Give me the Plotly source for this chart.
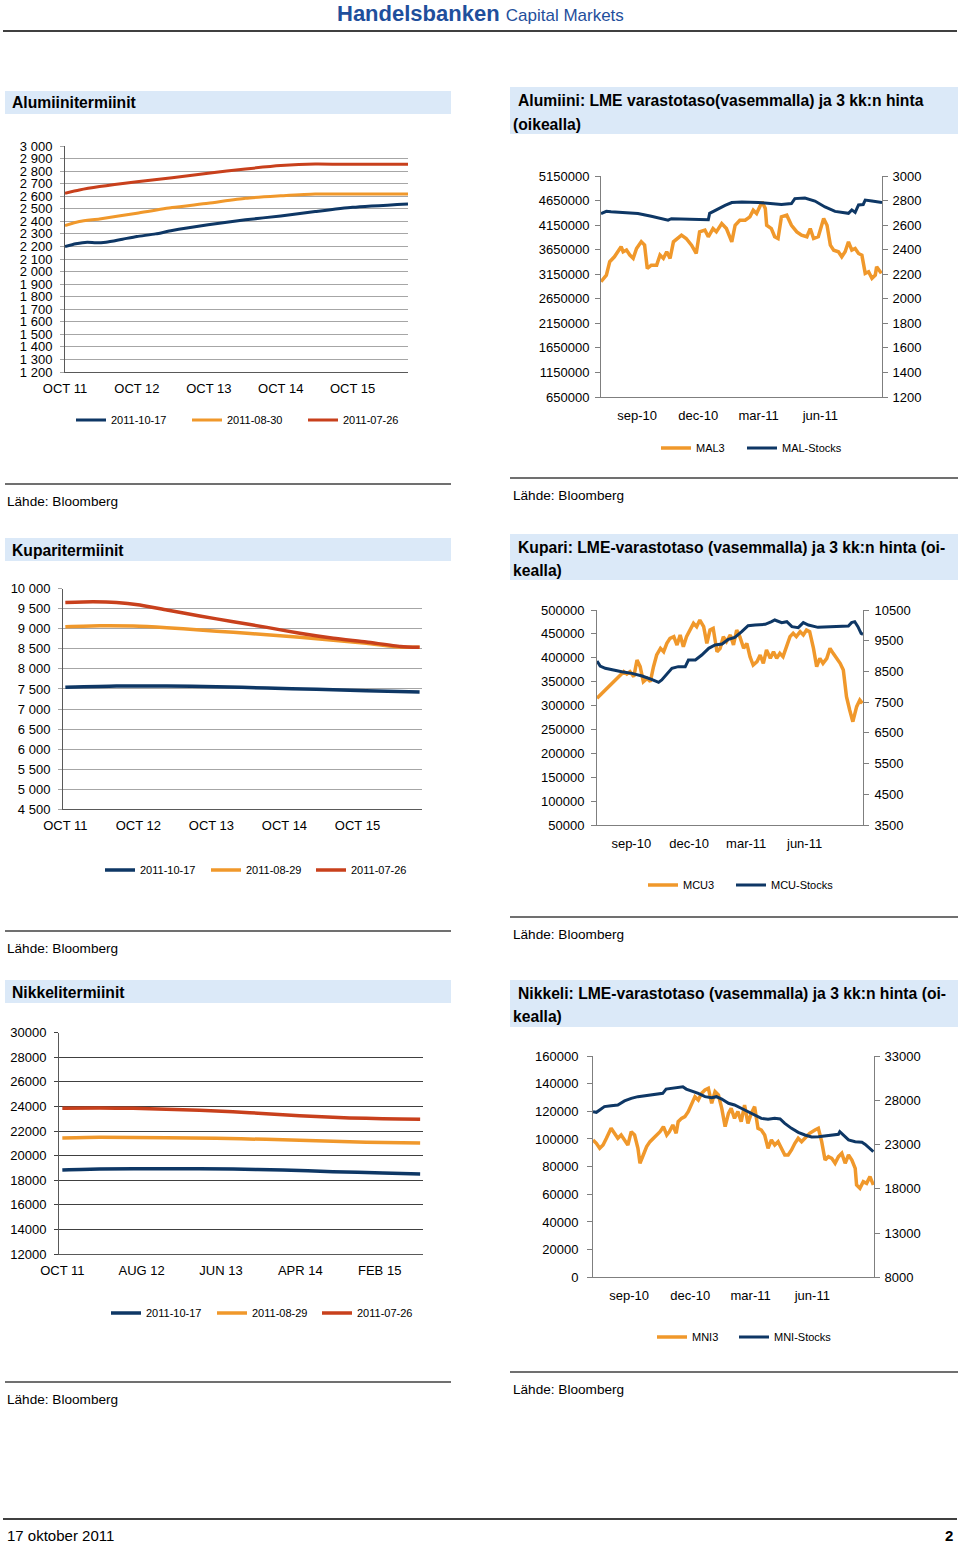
import plotly.graph_objects as go
import pandas as pd

W, H = 960, 1545
NAVY = '#0e3765'
ORANGE = '#f0982b'
RED = '#c8401c'
BAR = '#dbe9f8'
FONT = 'Liberation Sans, Arial, sans-serif'

# ---------------- Data ----------------
# Aluminium forward curves (x = years after OCT 11)
al_fwd_ticks = ['OCT 11', 'OCT 12', 'OCT 13', 'OCT 14', 'OCT 15']
al_1017_x = [0, 0.15, 0.31, 0.43, 0.57, 0.8, 1.0, 1.26, 1.49, 1.99, 2.51, 3.0, 3.48, 4.0, 4.77]
al_1017_y = [2199, 2221, 2234, 2229, 2234, 2258, 2279, 2300, 2327, 2372, 2412, 2443, 2478, 2512, 2539]
al_0830_x = [0, 0.2, 0.48, 1.0, 1.49, 1.99, 2.51, 3.0, 3.48, 4.0, 4.77]
al_0830_y = [2366, 2398, 2419, 2465, 2510, 2544, 2584, 2603, 2618, 2618, 2618]
al_0726_x = [0, 0.2, 0.48, 1.0, 1.49, 1.99, 2.51, 3.0, 3.48, 4.0, 4.77]
al_0726_y = [2624, 2650, 2677, 2716, 2748, 2783, 2817, 2844, 2857, 2854, 2854]

# Copper forward curves (x = years after OCT 11)
cu_fwd_ticks = ['OCT 11', 'OCT 12', 'OCT 13', 'OCT 14', 'OCT 15']
cu_1017_x = [0, 0.70, 1.39, 2.07, 2.76, 3.44, 4.12, 4.85]
cu_1017_y = [7541, 7574, 7574, 7557, 7524, 7491, 7458, 7424]
cu_0829_x = [0, 0.47, 0.93, 1.39, 1.84, 2.30, 2.76, 3.21, 3.67, 4.12, 4.59, 4.85]
cu_0829_y = [9053, 9078, 9070, 9028, 8970, 8912, 8854, 8787, 8712, 8640, 8545, 8538]
cu_0726_x = [0, 0.38, 0.70, 1.02, 1.39, 1.84, 2.30, 2.76, 3.21, 3.67, 4.12, 4.59, 4.85]
cu_0726_y = [9659, 9676, 9659, 9593, 9468, 9319, 9177, 9036, 8887, 8762, 8670, 8560, 8538]

# Nickel forward curves (x = months after OCT 11)
ni_fwd_ticks = ['OCT 11', 'AUG 12', 'JUN 13', 'APR 14', 'FEB 15']
ni_fwd_tickvals = [0, 10, 20, 30, 40]
ni_1017_x = [0, 4.7, 13.1, 21.5, 27.8, 34.1, 40.4, 45.1]
ni_1017_y = [18831, 18913, 18940, 18913, 18831, 18696, 18587, 18506]
ni_0829_x = [0, 4.7, 13.1, 19.4, 25.7, 32.0, 38.3, 45.1]
ni_0829_y = [21434, 21488, 21461, 21407, 21325, 21217, 21081, 21027]
ni_0726_x = [0, 4.7, 8.9, 13.1, 17.3, 21.5, 25.7, 29.9, 34.1, 38.3, 42.5, 45.1]
ni_0726_y = [23846, 23873, 23846, 23765, 23684, 23575, 23413, 23250, 23114, 23033, 22979, 22952]

# LME series (days after 2010-07-09)
lme_start = '2010-07-09'
lme_end = '2011-09-01'
lme_tickdates = ['2010-09-01', '2010-12-01', '2011-03-01', '2011-06-01']
lme_ticktext = ['sep-10', 'dec-10', 'mar-11', 'jun-11']

mal_stocks_days = [0, 8, 15, 55, 75, 90, 100, 105, 130, 160, 162, 175, 185, 195, 210, 235, 254, 269, 284, 289,
                   304, 319, 334, 349, 369, 374, 379, 384, 391, 394, 404, 419]
mal_stocks = [4385000, 4430000, 4420000, 4385000, 4330000, 4290000, 4250000, 4280000, 4270000, 4260000,
              4390000, 4490000, 4550000, 4610000, 4620000, 4610000, 4590000, 4570000, 4590000, 4690000,
              4700000, 4640000, 4520000, 4430000, 4390000, 4460000, 4410000, 4560000, 4570000, 4660000,
              4640000, 4610000]
mal3_days = [0, 8, 13, 20, 25, 30, 33, 38, 43, 48, 53, 60, 65, 69, 75, 83, 88, 93, 98, 103,
             108, 115, 120, 127, 135, 142, 147, 155, 160, 167, 172, 180, 187, 195, 200, 207, 215, 222, 227, 232,
             240, 245, 247, 254, 259, 264, 269, 277, 284, 292, 299, 307, 312, 317, 324, 332, 337, 342, 347, 354,
             359, 364, 369, 374, 379, 384, 389, 394, 399, 404, 409, 411, 416, 418]
mal3 = [2139, 2193, 2302, 2342, 2383, 2424, 2383, 2397, 2356, 2329, 2410, 2464, 2437, 2247, 2274, 2274, 2356, 2329, 2383, 2329,
        2464, 2491, 2518, 2491, 2437, 2369, 2545, 2559, 2505, 2572, 2545, 2613, 2572, 2464, 2599, 2640, 2640, 2667, 2721, 2694,
        2789, 2735, 2599, 2572, 2505, 2491, 2667, 2681, 2599, 2545, 2518, 2505, 2572, 2491, 2505, 2653, 2599, 2437, 2396, 2383,
        2342, 2383, 2464, 2396, 2410, 2369, 2356, 2207, 2220, 2166, 2193, 2261, 2220, 2207]

mcu_stocks_days = [0, 5, 13, 24, 39, 55, 71, 86, 97, 102, 110, 118, 128, 139, 144, 155, 165, 176, 186, 197,
                   207, 217, 228, 238, 249, 265, 275, 280, 291, 299, 307, 317, 325, 333, 348, 364, 380, 396, 401, 406,
                   411, 416, 419]
mcu_stocks = [393300, 382800, 377900, 374400, 370900, 367400, 361900, 354900, 348600, 353500,
              366000, 377900, 381400, 381400, 395300, 395300, 405800, 419800, 426700, 428800,
              438600, 442800, 454700, 467200, 468600, 470000, 475600, 479100, 473500, 475600,
              465100, 463000, 473500, 468600, 463700, 465100, 465100, 466500, 473500, 475600,
              465100, 451200, 449100]
mcu3_days = [0, 5, 13, 21, 29, 37, 42, 47, 52, 58, 63, 68, 73, 79, 84, 89, 94, 100, 105, 110,
             115, 121, 126, 131, 136, 141, 147, 152, 157, 162, 168, 173, 178, 183, 189, 194, 199, 204, 210, 215,
             220, 225, 231, 236, 241, 246, 252, 257, 262, 267, 273, 278, 283, 288, 293, 299, 304, 309, 314, 320,
             325, 330, 335, 341, 346, 351, 356, 362, 367, 372, 377, 383, 388, 393, 398, 403, 409, 414, 418]
mcu3 = [7624, 7733, 7895, 8058, 8221, 8384, 8492, 8416, 8492, 8329, 8872, 8655, 8167, 8275, 8167, 8655, 9035, 9252, 9143, 9415,
        9578, 9632, 9360, 9687, 9306, 9632, 9903, 10066, 9957, 10174, 9957, 9415, 9849, 9903, 9143, 9252, 9632, 9469, 9687, 9360,
        9849, 9632, 9252, 9415, 8981, 8709, 8818, 9035, 8763, 9198, 8926, 9143, 8926, 9089, 8981, 9360, 9632, 9740, 9632, 9795,
        9687, 9849, 9795, 9252, 8655, 8926, 8763, 8926, 9252, 9089, 8926, 8763, 8547, 7678, 7244, 6864, 7353, 7570, 7461]

mni_stocks_days = [0, 5, 10, 17, 27, 37, 47, 57, 67, 77, 87, 97, 104, 109, 117, 127, 134, 139, 147, 157,
                   167, 177, 184, 192, 202, 211, 221, 231, 241, 251, 261, 271, 279, 286, 296, 306, 316, 326, 336, 346,
                   356, 366, 368, 373, 381, 391, 401, 406, 413, 418]
mni_stocks = [119760, 119280, 121000, 123400, 124100, 124600, 127500, 129400, 130600, 131300,
              131800, 132300, 133000, 136100, 136600, 137100, 137800, 136100, 134700, 133000,
              130600, 129900, 130600, 128900, 125800, 124600, 122200, 119800, 116900, 114900,
              114200, 114900, 114500, 111300, 107700, 104800, 102900, 101400, 101700, 102400,
              102900, 103400, 105300, 102900, 99300, 98070, 97600, 96100, 92770, 90840]
mni3_days = [0, 5, 10, 15, 20, 25, 27, 32, 37, 42, 47, 52, 57, 62, 67, 70, 75, 80, 85, 90,
             95, 100, 105, 110, 114, 119, 124, 127, 132, 137, 142, 147, 152, 157, 162, 167, 172, 177, 182, 187,
             192, 197, 202, 206, 211, 216, 221, 226, 231, 236, 241, 246, 251, 256, 261, 266, 271, 276, 281, 286,
             291, 296, 301, 306, 311, 316, 323, 331, 336, 341, 346, 351, 356, 361, 366, 371, 376, 381, 386, 391,
             393, 398, 403, 408, 413, 418]
mni3 = [23512, 23136, 22571, 22947, 23700, 24453, 24830, 24265, 23700, 24077, 23512, 22947, 24453, 24077, 22571, 20877, 21818, 22759, 23324, 23700,
        24077, 24453, 25018, 24077, 24453, 25206, 24265, 25583, 25960, 26148, 26712, 27654, 28407, 28030, 28783, 29160, 29348, 27654, 28971, 28595,
        27089, 25018, 26524, 27089, 25960, 26712, 25583, 27465, 25395, 26524, 27277, 24830, 24642, 24077, 22571, 23512, 22947, 23324, 22571, 21818,
        21818, 22383, 23136, 23700, 23324, 23700, 24265, 24642, 24830, 23324, 21253, 21629, 21441, 20877, 21629, 22006, 20877, 21818, 21253, 20312,
        18430, 18053, 18806, 18618, 19371, 18430]


def to_dates(days):
    return pd.Timestamp(lme_start) + pd.to_timedelta(days, unit='D')


def px(x):
    return x / W


def py(y):
    return 1 - y / H


fig = go.Figure()
legends = {}
_leg_count = [0]


def new_legend(text_x, text_y):
    """One legend per entry so each entry sits where the reference shows it."""
    _leg_count[0] += 1
    name = 'legend' if _leg_count[0] == 1 else 'legend%d' % _leg_count[0]
    legends[name] = dict(orientation='h', x=px(text_x - 40), y=py(text_y), xanchor='left', yanchor='middle',
                         font=dict(family=FONT, size=11, color='black'), bgcolor='rgba(0,0,0,0)',
                         itemclick=False, itemdoubleclick=False, borderwidth=0)
    return name


def fwd(x, y, name, color, xa, ya, lx, ly, width):
    fig.add_trace(go.Scatter(x=x, y=y, name=name, mode='lines',
                             line=dict(color=color, width=width, shape='spline', smoothing=0.6),
                             xaxis=xa, yaxis=ya, legend=new_legend(lx, ly), hoverinfo='skip'))

fwd(al_1017_x, al_1017_y, '2011-10-17', NAVY, 'x', 'y', 111, 420, 3)
fwd(al_0830_x, al_0830_y, '2011-08-30', ORANGE, 'x', 'y', 227, 420, 3)
fwd(al_0726_x, al_0726_y, '2011-07-26', RED, 'x', 'y', 343, 420, 3)

fwd(cu_1017_x, cu_1017_y, '2011-10-17', NAVY, 'x3', 'y4', 140, 870, 3.5)
fwd(cu_0829_x, cu_0829_y, '2011-08-29', ORANGE, 'x3', 'y4', 246, 870, 3.5)
fwd(cu_0726_x, cu_0726_y, '2011-07-26', RED, 'x3', 'y4', 351, 870, 3.5)

fwd(ni_1017_x, ni_1017_y, '2011-10-17', NAVY, 'x5', 'y7', 146, 1313, 3.5)
fwd(ni_0829_x, ni_0829_y, '2011-08-29', ORANGE, 'x5', 'y7', 252, 1313, 3.5)
fwd(ni_0726_x, ni_0726_y, '2011-07-26', RED, 'x5', 'y7', 357, 1313, 3.5)


def lme(days, vals, name, color, xa, ya, lx, ly, width):
    fig.add_trace(go.Scatter(x=to_dates(days), y=vals, name=name, mode='lines',
                             line=dict(color=color, width=width),
                             xaxis=xa, yaxis=ya, legend=new_legend(lx, ly), hoverinfo='skip'))

lme(mal3_days, mal3, 'MAL3', ORANGE, 'x2', 'y2', 696, 448, 3.5)
lme(mal_stocks_days, mal_stocks, 'MAL-Stocks', NAVY, 'x2', 'y3', 782, 448, 3)
lme(mcu3_days, mcu3, 'MCU3', ORANGE, 'x4', 'y5', 683, 885, 3.5)
lme(mcu_stocks_days, mcu_stocks, 'MCU-Stocks', NAVY, 'x4', 'y6', 771, 885, 3)
lme(mni3_days, mni3, 'MNI3', ORANGE, 'x6', 'y8', 692, 1337, 3.5)
lme(mni_stocks_days, mni_stocks, 'MNI-Stocks', NAVY, 'x6', 'y9', 774, 1337, 3)

tickfont = dict(family=FONT, size=13, color='black')


def fwd_x(dom, rng, tickvals, ticks, anchor):
    return dict(domain=[px(dom[0]), px(dom[1])], anchor=anchor, range=rng,
                tickmode='array', tickvals=tickvals, ticktext=ticks, showgrid=False, zeroline=False,
                showline=True, linecolor='#595959', linewidth=1, ticks='', tickfont=tickfont,
                ticklabelstandoff=4, fixedrange=True, automargin=False)


def fwd_y(dom, rng, dtick, anchor, fmt, grid, standoff=5):
    return dict(domain=[py(dom[1]), py(dom[0])], anchor=anchor, range=rng, tick0=rng[0], dtick=dtick,
                tickformat=fmt, showgrid=True, gridcolor=grid, gridwidth=1, zeroline=False,
                showline=True, linecolor='#595959', linewidth=1, ticks='outside', ticklen=4,
                tickcolor=grid, tickfont=tickfont, ticklabelstandoff=standoff, fixedrange=True,
                automargin=False)


def lme_x(dom, anchor):
    return dict(domain=[px(dom[0]), px(dom[1])], anchor=anchor, type='date', range=[lme_start, lme_end],
                tickmode='array', tickvals=lme_tickdates, ticktext=lme_ticktext, showgrid=False,
                zeroline=False, showline=True, linecolor='#7f7f7f', linewidth=1, ticks='',
                tickfont=tickfont, ticklabelstandoff=6, fixedrange=True, automargin=False)


def lme_y(dom, rng, dtick, anchor, side, overlay=None, standoff=3):
    d = dict(range=rng, tick0=rng[0], dtick=dtick, tickformat='d', showgrid=False, zeroline=False,
             showline=True, linecolor='#7f7f7f', linewidth=1, ticks='outside', ticklen=5,
             tickcolor='#7f7f7f', tickfont=tickfont, ticklabelstandoff=standoff, side=side, anchor=anchor,
             fixedrange=True, automargin=False)
    if overlay:
        d['overlaying'] = overlay
    else:
        d['domain'] = [py(dom[1]), py(dom[0])]
    return d


layout = dict(
    width=W, height=H, margin=dict(l=0, r=0, t=0, b=0, pad=0, autoexpand=False),
    paper_bgcolor='white', plot_bgcolor='white', separators='. ',
    font=dict(family=FONT, size=13, color='black'),
    xaxis=fwd_x((65, 408), [0, 4.77], [0, 1, 2, 3, 4], al_fwd_ticks, 'y'),
    yaxis=fwd_y((146, 372), [1200, 3000], 100, 'x', ',d', '#a6a6a6'),
    xaxis2=lme_x((601, 882), 'y2'),
    yaxis2=lme_y((176, 397), [1200, 3000], 200, 'x2', 'right', standoff=2),
    yaxis3=lme_y(None, [650000, 5150000], 500000, 'x2', 'left', 'y2', standoff=3),
    xaxis3=fwd_x((63, 422), [-0.032, 4.883], [0, 1, 2, 3, 4], cu_fwd_ticks, 'y4'),
    yaxis4=fwd_y((588.7, 809.3), [4500, 10000], 500, 'x3', ',d', '#a6a6a6'),
    xaxis4=lme_x((597, 863), 'y5'),
    yaxis5=lme_y((610, 825), [3500, 10500], 1000, 'x4', 'right', standoff=3),
    yaxis6=lme_y(None, [50000, 500000], 50000, 'x4', 'left', 'y5', standoff=4),
    xaxis5=fwd_x((59, 423), [-0.42, 45.46], ni_fwd_tickvals, ni_fwd_ticks, 'y7'),
    yaxis7=fwd_y((1032.7, 1254), [12000, 30000], 2000, 'x5', 'd', '#404040'),
    xaxis6=lme_x((593, 874), 'y8'),
    yaxis8=lme_y((1056, 1277.3), [8000, 33000], 5000, 'x6', 'right', standoff=2),
    yaxis9=lme_y(None, [0, 160000], 20000, 'x6', 'left', 'y8', standoff=6),
    showlegend=True,
)
layout.update(legends)
fig.update_layout(**layout)

shapes = []
for (x0, y0, x1, y1) in [(5, 91, 451, 114), (510, 87, 958, 134), (5, 538, 451, 561),
                         (510, 534, 958, 580), (5, 980, 451, 1003), (510, 980, 958, 1027)]:
    shapes.append(dict(type='rect', xref='paper', yref='paper', x0=px(x0), x1=px(x1), y0=py(y1), y1=py(y0),
                       fillcolor=BAR, line=dict(width=0), layer='below'))
for (x0, x1, y, w) in [(3, 957, 31, 2), (3, 957, 1519, 2),
                       (5, 451, 484, 1.5), (510, 958, 478, 1.5),
                       (5, 451, 931, 1.5), (510, 958, 917, 1.5),
                       (5, 451, 1382, 1.5), (510, 958, 1372, 1.5)]:
    shapes.append(dict(type='line', xref='paper', yref='paper', x0=px(x0), x1=px(x1), y0=py(y), y1=py(y),
                       line=dict(color='#404040', width=w)))
fig.update_layout(shapes=shapes)


def text(x, y, s, size=14, bold=False, anchor='left', color='black'):
    fig.add_annotation(x=px(x), y=py(y), xref='paper', yref='paper', text=('<b>%s</b>' % s) if bold else s,
                       showarrow=False, xanchor=anchor, yanchor='middle',
                       font=dict(family=FONT, size=size, color=color))

# header
text(480, 13, "<b>Handelsbanken</b> <span style='font-size:17px'>Capital Markets</span>", size=22,
     anchor='center', color='#1f4f9c')

# panel titles
TS = 15.7
text(10, 103, 'Alumiinitermiinit', TS, True)
text(516, 100, 'Alumiini: LME varastotaso(vasemmalla) ja 3 kk:n hinta', TS, True)
text(511, 124, '(oikealla)', TS, True)
text(10, 550, 'Kuparitermiinit', TS, True)
text(516, 547, 'Kupari: LME-varastotaso (vasemmalla) ja 3 kk:n hinta (oi-', TS, True)
text(511, 571, 'kealla)', TS, True)
text(10, 992, 'Nikkelitermiinit', TS, True)
text(516, 993, 'Nikkeli: LME-varastotaso (vasemmalla) ja 3 kk:n hinta (oi-', TS, True)
text(511, 1017, 'kealla)', TS, True)

# sources
for (x, y) in [(5, 501), (511, 496), (5, 948), (511, 934), (5, 1399), (511, 1389)]:
    text(x, y, 'Lähde: Bloomberg', 13.6)

# footer
text(5, 1535, '17 oktober 2011', 15)
text(955, 1535, '2', 15, True, anchor='right')

fig.write_html('out.html', config={'displayModeBar': False},
               post_script="document.body.style.margin='0';document.body.style.overflow='hidden';")
